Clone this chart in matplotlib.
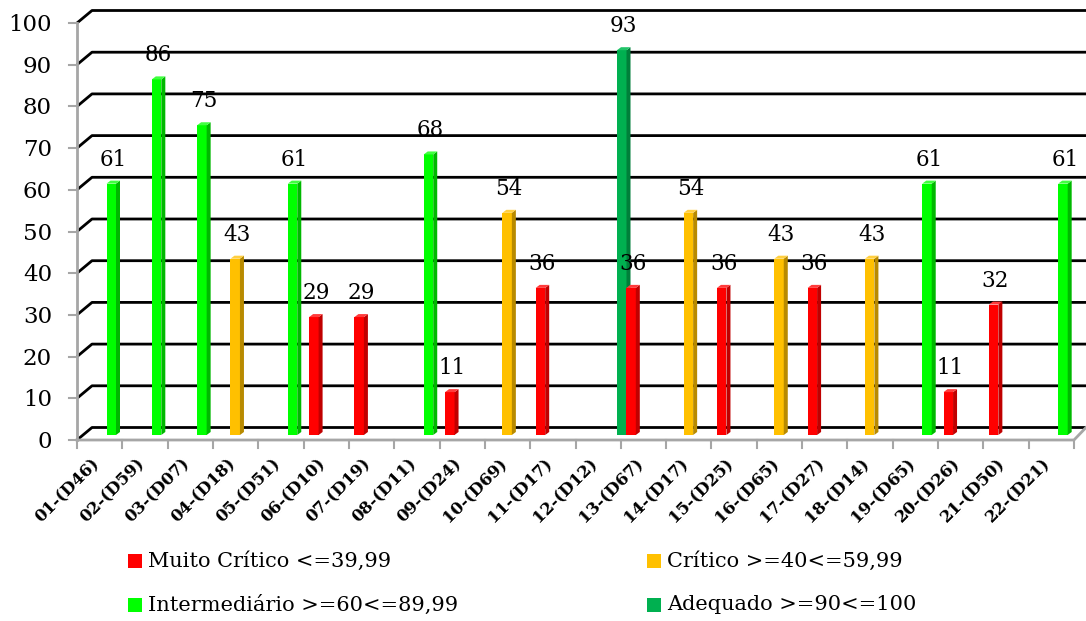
import numpy as np
import matplotlib.pyplot as plt
from matplotlib.patches import Polygon, Rectangle

plt.rcParams['font.family'] = 'DejaVu Serif'

categorias = ['01-(D46)', '02-(D59)', '03-(D07)', '04-(D18)', '05-(D51)', '06-(D10)',
              '07-(D19)', '08-(D11)', '09-(D24)', '10-(D69)', '11-(D17)', '12-(D12)',
              '13-(D67)', '14-(D17)', '15-(D25)', '16-(D65)', '17-(D27)', '18-(D14)',
              '19-(D65)', '20-(D26)', '21-(D50)', '22-(D21)']

muito_critico = [None, None, None, None, None, 29, 29, None, 11, None, 36, None,
                 36, None, 36, None, 36, None, None, 11, 32, None]
critico = [None, None, None, 43, None, None, None, None, None, 54, None, None,
           None, 54, None, 43, None, 43, None, None, None, None]
intermediario = [61, 86, 75, None, 61, None, None, 68, None, None, None, None,
                 None, None, None, None, None, None, 61, None, None, 61]
adequado = [None, None, None, None, None, None, None, None, None, None, None, 93,
            None, None, None, None, None, None, None, None, None, None]

# label, values, face colour, side colour, top colour
series = [
    ('Muito Crítico <=39,99', muito_critico, '#FF0000', '#C00000', '#FF3B3B'),
    ('Crítico >=40<=59,99', critico, '#FFC000', '#B88A00', '#FFCF40'),
    ('Intermediário >=60<=89,99', intermediario, '#00FF00', '#00B800', '#40FF40'),
    ('Adequado >=90<=100', adequado, '#00B050', '#007F3A', '#20C468'),
]

W, H = 1086, 621
fig = plt.figure(figsize=(W / 100, H / 100), dpi=100)
ax = fig.add_axes([77 / W, (H - 435) / H, 997 / W, 417 / H])
ax.set_xlim(-0.5, 21.5)
ax.set_ylim(0, 100)
ax.axis('off')

n = len(categorias)
px = 997 / n      # pixels per category
py = 417 / 100    # pixels per value unit


def dx(p):
    return p / px


def dy(p):
    return p / py


front = -dy(5)
back = dy(7.5)
x_front = -0.5
x_back = -0.5 + dx(15)
x_end = -0.5 + dx(W - 77)
grey = '#A6A6A6'

# back wall gridlines with the slanted piece on the side wall
for v in range(0, 101, 10):
    ax.plot([x_front, x_back, x_end], [v + front, v + back, v + back],
            color='black', lw=2, clip_on=False, zorder=1, solid_capstyle='butt')
    ax.plot([x_front - dx(8), x_front], [v + front, v + front],
            color=grey, lw=1.5, clip_on=False, zorder=3)
    ax.text(x_front - dx(25), v + front - dy(2), str(v), ha='right', va='center',
            fontsize=16.5, color='black')

# front axis and floor edge
ax.plot([x_front, x_front], [front, 100 + front], color=grey, lw=2,
        clip_on=False, zorder=3)
ax.plot([x_front, 21.5, 21.5 + dx(12)], [front, front, back], color=grey, lw=2,
        clip_on=False, zorder=3)
for k in range(n + 1):
    ax.plot([k - 0.5, k - 0.5], [front, front - dy(8)], color=grey, lw=1.5,
            clip_on=False, zorder=3)

# 3D-looking columns
w = dx(9.5)
ddx = dx(4)
ddy = dy(3)
bars = []
for s, (lab, vals, face, side, top) in enumerate(series):
    for i, v in enumerate(vals):
        if v is None:
            continue
        left = i - 0.5 + dx(5.5) + s * dx(12)
        bars.append((left, v, face, side, top))
bars.sort(key=lambda b: b[0])

for z, (left, v, face, side, top) in enumerate(bars):
    zo = 5 + z * 0.01
    h = v - ddy
    ax.add_patch(Rectangle((left, 0), w, h, facecolor=face, edgecolor='none',
                           zorder=zo, clip_on=False))
    ax.add_patch(Polygon([(left + w, 0), (left + w + ddx, ddy), (left + w + ddx, h + ddy),
                          (left + w, h)], closed=True, facecolor=side,
                         edgecolor='none', zorder=zo, clip_on=False))
    ax.add_patch(Polygon([(left, h), (left + w, h), (left + w + ddx, h + ddy),
                          (left + ddx, h + ddy)], closed=True, facecolor=top,
                         edgecolor='none', zorder=zo, clip_on=False))
    ax.text(left + (w + ddx) / 2, v + dy(15), str(v), ha='center', va='baseline',
            fontsize=15.5, color='black', zorder=10, clip_on=False)

# slanted category labels under the floor
for i, lab in enumerate(categorias):
    ax.text(i - dx(3), front - dy(21), lab, rotation=45, ha='right', va='center',
            rotation_mode='anchor', fontsize=12, fontweight='bold', color='black')

# legend drawn in figure pixel coordinates
lg = fig.add_axes([0, 0, 1, 1])
lg.set_xlim(0, W)
lg.set_ylim(H, 0)
lg.axis('off')
cols = [128, 647]
rows = [561, 605]
for k, (lab, vals, face, side, top) in enumerate(series):
    x0 = cols[k % 2]
    y0 = rows[k // 2]
    lg.add_patch(Rectangle((x0, y0 - 7), 14, 14, facecolor=face, edgecolor='none'))
    lg.text(x0 + 20, y0, lab, ha='left', va='center', fontsize=15, color='black')

fig.savefig('out.png', dpi=100)
